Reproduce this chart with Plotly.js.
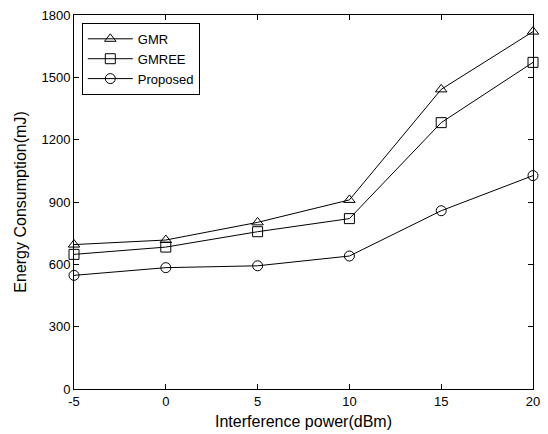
<!DOCTYPE html>
<html>
<head>
<meta charset="utf-8">
<script src="https://cdn.plot.ly/plotly-3.0.1.min.js"></script>
<style>html,body{margin:0;padding:0;background:#fff;}#chart{width:548px;height:434px;}</style>
</head>
<body>
<div id="chart"></div>
<script>
const interferencePower = [-5, 0, 5, 10, 15, 20];
const gmr = [695, 717, 802, 910, 1442, 1720];
const gmree = [648, 683, 757, 820, 1282, 1572];
const proposed = [547, 584, 593, 640, 858, 1027];
const xTicks = [-5, 0, 5, 10, 15, 20];
const yTicks = [0, 300, 600, 900, 1200, 1500, 1800];

function series(name, y, symbol) {
  return {
    x: interferencePower, y: y, name: name, type: 'scatter', mode: 'lines+markers',
    cliponaxis: false,
    line: {color: '#000', width: 1},
    marker: {symbol: symbol, size: 10, color: '#000', line: {color: '#000', width: 1}}
  };
}
const data = [
  series('GMR', gmr, 'triangle-up-open'),
  series('GMREE', gmree, 'square-open'),
  series('Proposed', proposed, 'circle-open')
];
const font = {family: 'Liberation Sans, Arial, sans-serif', color: '#000'};
const layout = {
  width: 548, height: 434,
  margin: {l: 74, r: 15, t: 15, b: 45},
  paper_bgcolor: '#fff', plot_bgcolor: '#fff',
  font: Object.assign({size: 13}, font),
  showlegend: true,
  legend: {
    x: 0.017, y: 0.979, xanchor: 'left', yanchor: 'top',
    bordercolor: '#000', borderwidth: 1, bgcolor: '#fff',
    font: Object.assign({size: 13}, font),
    itemwidth: 45,
    tracegroupgap: 0
  },
  xaxis: {
    range: [-5, 20], tickvals: xTicks, ticktext: xTicks.map(String),
    showgrid: false, zeroline: false, showline: true, linecolor: '#000', linewidth: 1,
    mirror: 'ticks', ticks: 'inside', ticklen: 5, tickcolor: '#000',
    tickfont: Object.assign({size: 13}, font),
    title: {text: 'Interference power(dBm)', font: Object.assign({size: 16}, font), standoff: 8}
  },
  yaxis: {
    range: [0, 1800], tickvals: yTicks, ticktext: yTicks.map(String),
    showgrid: false, zeroline: false, showline: true, linecolor: '#000', linewidth: 1,
    mirror: 'ticks', ticks: 'inside', ticklen: 5, tickcolor: '#000',
    tickfont: Object.assign({size: 13}, font),
    title: {text: 'Energy Consumption(mJ)', font: Object.assign({size: 16}, font), standoff: 10}
  }
};
Plotly.newPlot('chart', data, layout, {displayModeBar: false, staticPlot: true});
</script>
</body>
</html>
